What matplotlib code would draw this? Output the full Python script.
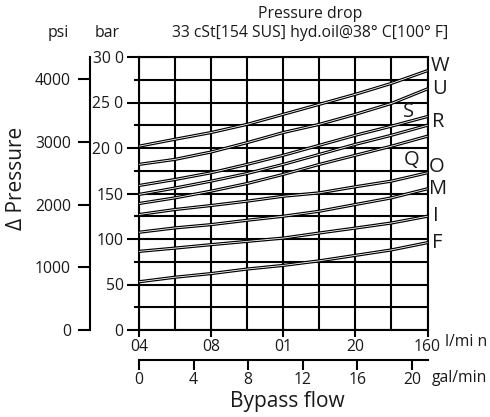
import matplotlib
matplotlib.use("Agg")
import matplotlib.pyplot as plt
import numpy as np

plt.rcParams['font.family'] = ['Open Sans', 'DejaVu Sans']

# ---- data ----
flow_lpm = [0, 10, 20, 30, 40, 50, 60, 70, 80]
curve_W = [202, 209.6, 217, 226, 237, 248, 259, 271, 285]
curve_U = [182, 187.5, 195.6, 205.9, 217, 226, 237, 249, 265]
curve_S = [158.8, 165.4, 172.8, 182, 192, 203, 214, 224, 234.6]
curve_R = [149, 156, 163.6, 172, 182, 193, 204, 214, 225]
curve_Q = [139, 145.2, 152.6, 161, 171, 182, 192, 202, 213]
curve_O = [126.9, 132.4, 136.8, 141.6, 147, 150.7, 157.4, 163.6, 172.8]
curve_M = [107.4, 112.2, 115.8, 120.6, 125, 130.5, 137.9, 145.2, 155.2]
curve_I = [86.4, 90, 93.8, 97.4, 101, 106.6, 112, 117.6, 125]
curve_F = [53, 58, 62, 67, 71, 76, 82, 88, 96]
curve_names = ["W", "U", "S", "R", "Q", "O", "M", "I", "F"]

lpm_ticks = [0, 20, 40, 60, 80]
lpm_tick_labels = ["04", "08", "01", "20", "160"]
bar_ticks = [0, 50, 100, 150, 200, 250, 300]
bar_tick_labels = ["0", "50", "100", "150", "20 0", "25 0", "30 0"]
psi_ticks = [0, 1000, 2000, 3000, 4000]
psi_tick_labels = ["0", "1000", "2000", "3000", "4000"]
gpm_ticks = [0, 4, 8, 12, 16, 20]
gpm_tick_labels = ["0", "4", "8", "12", "16", "20"]

LPM_PER_GPM = 3.785
PSI_PER_BAR = 14.5038

# ---- layout ----
W, H = 490, 417
fig = plt.figure(figsize=(W / 100, H / 100), dpi=100)
fig.patch.set_facecolor('white')

def fx(px):
    return px / W

def fy(py):
    return 1 - py / H

tc = '#1a1a1a'
fs_tick = 11.3
fs_big = 15

left, right, top, bottom = 139, 427.5, 57, 330
ax = fig.add_axes([fx(left), fy(bottom), fx(right) - fx(left), fy(top) - fy(bottom)])
ax.set_xlim(0, 80)
ax.set_ylim(0, 300)

lw_grid = 1.5
ax.set_xticks(lpm_ticks)
ax.set_xticklabels(lpm_tick_labels, fontsize=fs_tick, color=tc)
ax.set_xticks([10, 30, 50, 70], minor=True)
ax.set_yticks(bar_ticks)
ax.set_yticklabels(bar_tick_labels, fontsize=fs_tick, color=tc)
ax.set_yticks([25, 75, 125, 175, 225, 275], minor=True)
ax.grid(True, which='both', color='black', linewidth=lw_grid)
ax.set_axisbelow(True)
for s in ax.spines.values():
    s.set_linewidth(lw_grid)
ax.tick_params(axis='x', which='major', length=5, width=lw_grid, pad=1.5, direction='out')
ax.tick_params(axis='x', which='minor', length=0)
ax.tick_params(axis='y', which='major', length=8.6, width=lw_grid, pad=2.5, direction='out')
ax.tick_params(axis='y', which='minor', length=3.6, width=lw_grid, direction='out')

curves = [curve_W, curve_U, curve_S, curve_R, curve_Q, curve_O, curve_M, curve_I, curve_F]
for c in curves:
    ax.plot(flow_lpm, c, color='black', lw=2.3, solid_capstyle='butt', zorder=3, clip_on=False)
    ax.plot(flow_lpm, c, color='white', lw=0.6, solid_capstyle='butt', zorder=4, clip_on=False)

# curve labels (offsets in points from curve end)
label_offsets = {"W": (2, 3), "U": (3, 0), "S": (-18, 3), "R": (3, 2),
                 "Q": (-17, -17), "O": (1, 4), "M": (1, 0), "I": (4, 0), "F": (3, 0)}
for name, c in zip(curve_names, curves):
    dx, dy = label_offsets[name]
    ax.annotate(name, xy=(flow_lpm[-1], c[-1]), xytext=(dx, dy), textcoords='offset points',
                ha='left', va='center', fontsize=14.5, color=tc, annotation_clip=False)

# psi axis
axp = fig.add_axes([fx(90), fy(bottom), 0.0001, fy(top) - fy(bottom)])
axp.set_ylim(0, 300 * PSI_PER_BAR)
axp.set_xticks([])
axp.set_yticks(psi_ticks)
axp.set_yticklabels(psi_tick_labels, fontsize=fs_tick, color=tc)
for k in ['top', 'right', 'bottom']:
    axp.spines[k].set_visible(False)
axp.spines['left'].set_linewidth(lw_grid)
axp.tick_params(axis='y', length=8.6, width=lw_grid, pad=5, direction='out')
axp.patch.set_visible(False)

# gal/min axis
axg = fig.add_axes([fx(left), fy(360), fx(right) - fx(left), 0.0001])
axg.set_xlim(0, 80 / LPM_PER_GPM)
axg.set_yticks([])
axg.set_xticks(gpm_ticks)
axg.set_xticklabels(gpm_tick_labels, fontsize=fs_tick, color=tc)
for k in ['top', 'right', 'left']:
    axg.spines[k].set_visible(False)
axg.spines['bottom'].set_linewidth(lw_grid)
axg.tick_params(axis='x', length=7, width=lw_grid, pad=1.5, direction='out')
axg.patch.set_visible(False)

# texts
fig.text(fx(310), fy(14), "Pressure drop", ha='center', va='center', fontsize=fs_tick, color=tc)
fig.text(fx(310), fy(33), "33 cSt[154 SUS] hyd.oil@38° C[100° F]", ha='center', va='center',
         fontsize=fs_tick, color=tc)
fig.text(fx(58), fy(33), "psi", ha='center', va='center', fontsize=fs_tick, color=tc)
fig.text(fx(107), fy(33), "bar", ha='center', va='center', fontsize=fs_tick, color=tc)
fig.text(fx(445), fy(342), "l/mi n", ha='left', va='center', fontsize=fs_tick, color=tc)
fig.text(fx(432), fy(378), "gal/min", ha='left', va='center', fontsize=fs_tick, color=tc)
fig.text(fx(287), fy(401), "Bypass flow", ha='center', va='center', fontsize=fs_big, color=tc)
fig.text(fx(17), fy(178), "Δ Pressure", ha='center', va='center', rotation=90, fontsize=fs_big, color=tc)

fig.savefig("out.png", dpi=100, facecolor='white')
